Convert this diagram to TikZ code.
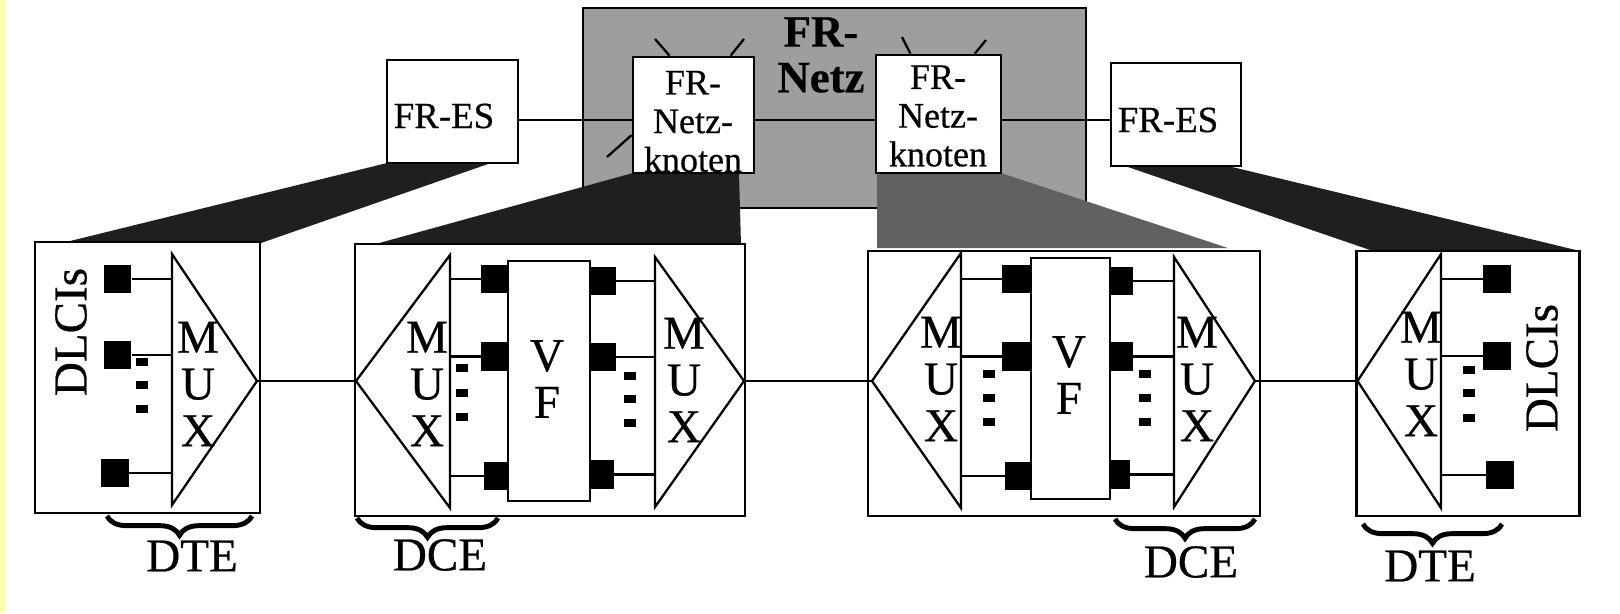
\documentclass[tikz,border=0pt]{standalone}
\usepackage{fontspec}
\setmainfont[RawFeature={embolden=0.5}]{Liberation Serif}
\usetikzlibrary{decorations.pathreplacing}

\begin{document}
\begin{tikzpicture}[
    x=0.02cm, y=-0.02cm,
    box/.style={draw, fill=white, line width=1.6pt, inner sep=0pt},
    mux/.style={draw, line width=1.3pt},
    link/.style={line width=1.3pt},
    port/.style={fill=black, inner sep=0pt, minimum width=#1, minimum height=16.4pt},
    port/.default=15.9pt,
    pip/.style={fill=black, inner sep=0pt, minimum width=6.5pt, minimum height=4.5pt},
    esfont/.style={inner sep=0pt, font=\fontsize{21}{21}\selectfont},
    knotfont/.style={inner sep=0pt, align=center, font=\fontsize{20.5}{22}\selectfont},
    bigfont/.style={inner sep=0pt, align=center, font=\fontsize{26.8}{26.6}\selectfont},
    dlci/.style={bigfont, rotate=90},
    bracket/.style={line width=2.8pt, decorate, decoration={brace, mirror, amplitude=11pt}}
]
    \useasboundingbox (0,0) rectangle (1620,613);

    % Yellow edge of the page
    \fill[yellow!30] (0,0) rectangle (6,613);

    % Cloud of the network
    \node[draw, fill=black!38, line width=1.6pt, inner sep=0pt, minimum width=10.06cm, minimum height=4cm] (net) at (834.5,108) {};
    \node[inner sep=0pt, align=center, font=\bfseries\fontsize{25.5}{26}\selectfont] (nettext) at (821,55) {FR-\\Netz};

    % Wedges from the upper boxes to the details
    \fill[black!88] (387,163) -- (491,163) -- (261,243) -- (62,243) -- cycle;
    \fill[black!88] (633,173) -- (739,173) -- (741,245) -- (372,245) -- cycle;
    \fill[black!62] (877,173) -- (1001,173) -- (1228,248) -- (877,248) -- cycle;
    \fill[black!88] (1125,166) -- (1228,166) -- (1580,251) -- (1373,251) -- cycle;

    % Upper boxes
    \node[box, minimum width=2.62cm, minimum height=2.06cm] (es1) at (452.5,111.5) {};
    \node[box, minimum width=2.42cm, minimum height=2.32cm] (k1) at (693.5,115) {};
    \node[box, minimum width=2.5cm, minimum height=2.36cm] (k2) at (938.5,114) {};
    \node[box, minimum width=2.6cm, minimum height=2.06cm] (es2) at (1176,114.5) {};

    \node[esfont] (es1text) at (444,116) {FR-ES};
    \node[esfont] (es2text) at (1168,120) {FR-ES};
    \node[knotfont] (k1text) at (693,121.5) {FR-\\Netz-\\knoten};
    \node[knotfont] (k2text) at (938,116) {FR-\\Netz-\\knoten};

    % Trunk between the upper boxes
    \coordinate (bus) at (0,120);
    \draw[link] (es1.east |- bus) -- (k1.west |- bus);
    \draw[link] (k1.east |- bus) -- (k2.west |- bus);
    \draw[link] (k2.east |- bus) -- (es2.west |- bus);

    % Stubs on the network nodes
    \coordinate (stub1) at (655,39);
    \coordinate (stub2) at (744,39);
    \coordinate (stub3) at (607,157);
    \coordinate (stub4) at (902,37);
    \coordinate (stub5) at (986,40);
    \draw[link] (stub1) -- (k1.112);
    \draw[link] (stub2) -- (k1.58);
    \draw[link] (stub3) -- (k1.198);
    \draw[link] (stub4) -- (k2.115);
    \draw[link] (stub5) -- (k2.59);

    % Lower frames
    \node[box, minimum width=4.5cm, minimum height=5.42cm] (frame1) at (147.5,377.5) {};
    \node[box, minimum width=7.8cm, minimum height=5.44cm] (frame2) at (550,380) {};
    \node[box, minimum width=7.84cm, minimum height=5.3cm] (frame3) at (1064,383.5) {};
    \node[box, minimum width=4.47cm, minimum height=5.3cm] (frame4) at (1468,383.5) {};

    % Multiplexer corners
    \coordinate (m1top) at (172,254);
    \coordinate (m1bot) at (172,505);
    \coordinate (m1tip) at (257,381);
    \coordinate (m2top) at (450,255);
    \coordinate (m2bot) at (450,508);
    \coordinate (m2tip) at (356,381);
    \coordinate (m3top) at (655,257);
    \coordinate (m3bot) at (655,507);
    \coordinate (m3tip) at (744,381);
    \coordinate (m4top) at (961,253);
    \coordinate (m4bot) at (961,508);
    \coordinate (m4tip) at (872,381);
    \coordinate (m5top) at (1174,257);
    \coordinate (m5bot) at (1174,507);
    \coordinate (m5tip) at (1255,381);
    \coordinate (m6top) at (1441,254);
    \coordinate (m6bot) at (1441,508);
    \coordinate (m6tip) at (1357.5,381);

    \draw[mux] (m1top) -- (m1tip) -- (m1bot) -- cycle;
    \draw[mux] (m2top) -- (m2tip) -- (m2bot) -- cycle;
    \draw[mux] (m3top) -- (m3tip) -- (m3bot) -- cycle;
    \draw[mux] (m4top) -- (m4tip) -- (m4bot) -- cycle;
    \draw[mux] (m5top) -- (m5tip) -- (m5bot) -- cycle;
    \draw[mux] (m6top) -- (m6tip) -- (m6bot) -- cycle;

    % Trunk between the frames
    \draw[link] (m1tip) -- (m2tip);
    \draw[link] (m3tip) -- (m4tip);
    \draw[link] (m5tip) -- (m6tip);

    % Ports, frame 1
    \node[port] (a1) at (117.5,279) {};
    \node[port] (a2) at (117.5,355) {};
    \node[port] (a3) at (115,473) {};
    \draw[link] (a1.east) -- (a1.east -| m1top);
    \draw[link] (a2.east) -- (a2.east -| m1top);
    \draw[link] (a3.east) -- (a3.east -| m1top);

    % Ports, frame 2
    \node[port=15.3pt] (b1) at (494.5,279) {};
    \node[port=15.3pt] (b2) at (494.5,356.5) {};
    \node[port=13.6pt] (b3) at (496,476) {};
    \node[port=14.7pt] (c1) at (603,281) {};
    \node[port=14.7pt] (c2) at (603,357) {};
    \node[port=13.6pt] (c3) at (602,474.5) {};
    \draw[link] (b1.west) -- (b1.west -| m2top);
    \draw[link] (b2.west) -- (b2.west -| m2top);
    \draw[link] (b3.west) -- (b3.west -| m2top);
    \draw[link] (c1.east) -- (c1.east -| m3top);
    \draw[link] (c2.east) -- (c2.east -| m3top);
    \draw[link] (c3.east) -- (c3.east -| m3top);

    % Ports, frame 3
    \node[port=16.4pt] (d1) at (1016.5,279) {};
    \node[port=16.4pt] (d2) at (1016.5,356.5) {};
    \node[port=14.7pt] (d3) at (1018,476) {};
    \node[port=13pt] (e1) at (1121.5,281) {};
    \node[port=13pt] (e2) at (1121.5,356.5) {};
    \node[port=11.3pt] (e3) at (1120,474.5) {};
    \draw[link] (d1.west) -- (d1.west -| m4top);
    \draw[link] (d2.west) -- (d2.west -| m4top);
    \draw[link] (d3.west) -- (d3.west -| m4top);
    \draw[link] (e1.east) -- (e1.east -| m5top);
    \draw[link] (e2.east) -- (e2.east -| m5top);
    \draw[link] (e3.east) -- (e3.east -| m5top);

    % Ports, frame 4
    \node[port] (f1) at (1497,279) {};
    \node[port] (f2) at (1497,356) {};
    \node[port] (f3) at (1500,475) {};
    \draw[link] (f1.west) -- (f1.west -| m6top);
    \draw[link] (f2.west) -- (f2.west -| m6top);
    \draw[link] (f3.west) -- (f3.west -| m6top);

    % Switching blocks
    \node[box, minimum width=1.64cm, minimum height=4.8cm] (vf1) at (549,381) {};
    \node[box, minimum width=1.58cm, minimum height=4.82cm] (vf2) at (1070.5,378.5) {};
    \node[bigfont] (vf1text) at (547,379) {V\\F};
    \node[bigfont] (vf2text) at (1069,375) {V\\F};

    % Dots for the omitted ports
    \node[pip] (p11) at (142,362) {};
    \node[pip] (p12) at (142,385) {};
    \node[pip] (p13) at (142,409) {};
    \node[pip] (p21) at (462,368) {};
    \node[pip] (p22) at (462,393) {};
    \node[pip] (p23) at (462,417) {};
    \node[pip] (p31) at (630,376) {};
    \node[pip] (p32) at (630,399) {};
    \node[pip] (p33) at (630,423) {};
    \node[pip] (p41) at (989,374) {};
    \node[pip] (p42) at (989,398) {};
    \node[pip] (p43) at (989,422) {};
    \node[pip] (p51) at (1145,374) {};
    \node[pip] (p52) at (1145,398) {};
    \node[pip] (p53) at (1145,422) {};
    \node[pip] (p61) at (1469,370) {};
    \node[pip] (p62) at (1469,393) {};
    \node[pip] (p63) at (1469,418) {};

    % Multiplexer labels
    \node[bigfont] (m1text) at (198,384) {M\\U\\X};
    \node[bigfont] (m2text) at (427,384) {M\\U\\X};
    \node[bigfont] (m3text) at (684,380) {M\\U\\X};
    \node[bigfont] (m4text) at (941,379) {M\\U\\X};
    \node[bigfont] (m5text) at (1197,379) {M\\U\\X};
    \node[bigfont] (m6text) at (1421,374) {M\\U\\X};

    \node[dlci] (dlci1) at (71,332) {DLCIs};
    \node[dlci] (dlci2) at (1542,368) {DLCIs};

    % Braces and their labels
    \coordinate (br1a) at (107,516);
    \coordinate (br1b) at (252,516);
    \coordinate (br2a) at (357,518);
    \coordinate (br2b) at (498,518);
    \coordinate (br3a) at (1115,519);
    \coordinate (br3b) at (1255,519);
    \coordinate (br4a) at (1363,524);
    \coordinate (br4b) at (1502,524);
    \draw[bracket] (br1a) -- (br1b);
    \draw[bracket] (br2a) -- (br2b);
    \draw[bracket] (br3a) -- (br3b);
    \draw[bracket] (br4a) -- (br4b);

    \node[bigfont] (dte1) at (192,556) {DTE};
    \node[bigfont] (dce1) at (440,555) {DCE};
    \node[bigfont] (dce2) at (1191,562) {DCE};
    \node[bigfont] (dte2) at (1430,566) {DTE};

\end{tikzpicture}
\end{document}
